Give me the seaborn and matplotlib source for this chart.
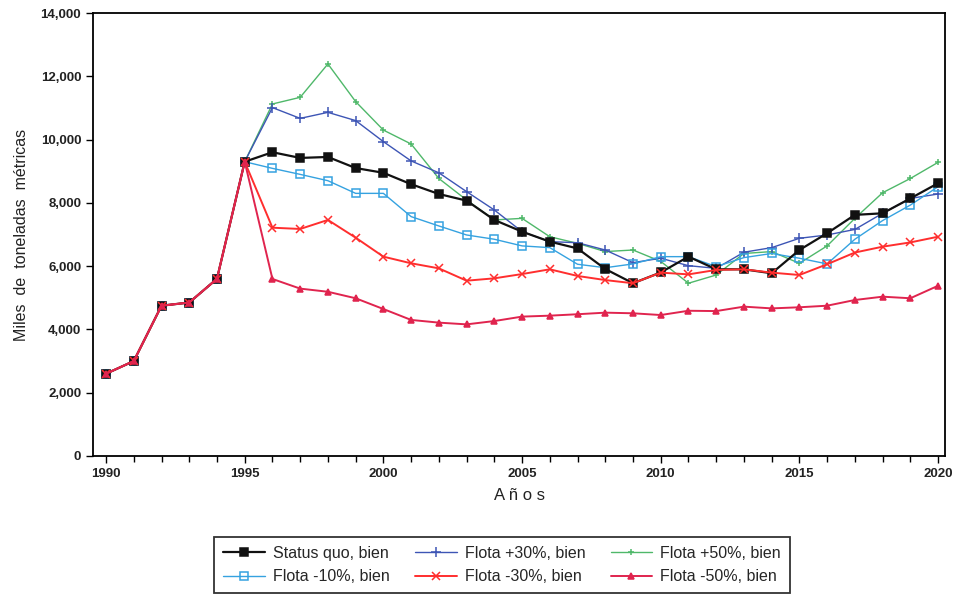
import numpy as np
import pandas as pd
import matplotlib
matplotlib.use("Agg")
import matplotlib.pyplot as plt
import seaborn as sns

years = list(range(1990, 2021))
hist = [2600, 3000, 4750, 4850, 5600, 9300]

status_quo = hist + [9600, 9420, 9450, 9100, 8950, 8590, 8280, 8070, 7460, 7090, 6775, 6560,
                     5910, 5460, 5800, 6300, 5900, 5900, 5775, 6510, 7040, 7620, 7670, 8140, 8620]
flota_p30 = hist + [11010, 10670, 10860, 10600, 9935, 9325, 8950, 8355, 7775, 7090, 6775, 6740,
                    6510, 6110, 6250, 6015, 5930, 6440, 6585, 6880, 6985, 7160, 7670, 8140, 8280]
flota_p50 = hist + [11125, 11335, 12390, 11200, 10300, 9860, 8770, 8090, 7460, 7510, 6930, 6720,
                    6460, 6510, 6150, 5460, 5720, 6400, 6460, 6090, 6640, 7510, 8320, 8770, 9280]
flota_m10 = hist + [9090, 8900, 8700, 8300, 8300, 7565, 7270, 6985, 6850, 6640, 6585, 6060,
                    5950, 6070, 6300, 6300, 5985, 6270, 6400, 6250, 6070, 6850, 7440, 7930, 8510]
flota_m30 = hist + [7215, 7175, 7460, 6900, 6300, 6090, 5930, 5540, 5615, 5750, 5900, 5690,
                    5560, 5460, 5795, 5740, 5880, 5900, 5795, 5720, 6060, 6430, 6615, 6750, 6930]
flota_m50 = hist + [5595, 5290, 5190, 4985, 4645, 4300, 4215, 4160, 4265, 4405, 4435, 4480,
                    4530, 4510, 4455, 4590, 4580, 4720, 4665, 4700, 4750, 4930, 5035, 4985, 5380]

labels = ["Status quo, bien", "Flota +30%, bien", "Flota +50%, bien",
          "Flota -10%, bien", "Flota -30%, bien", "Flota -50%, bien"]
series = [status_quo, flota_p30, flota_p50, flota_m10, flota_m30, flota_m50]

colors = ["#111111", "#3d55b5", "#4fb86a", "#35a2e0", "#ff2e2e", "#e0244e"]
markers = ["s", "+", "+", "s", "x", "^"]
msizes = [5.5, 6.5, 5, 6, 5.5, 4.5]
mfill = [True, True, True, False, True, True]
lws = [1.6, 1.0, 1.0, 1.0, 1.4, 1.4]

sns.set_theme(style="white")
plt.rcParams['font.family'] = ['Liberation Sans', 'DejaVu Sans']

fig = plt.figure(figsize=(9.59, 6.0), dpi=100)
ax = fig.add_axes([93/959, 1 - 456/600, (945-93)/959, (456-13)/600])

draw_order = [2, 1, 3, 0, 4, 5]
for i in draw_order:
    df = pd.DataFrame({"Año": years, "Valor": series[i]})
    kw = dict(marker=markers[i], markersize=msizes[i], color=colors[i], linewidth=lws[i],
              markeredgecolor=colors[i], markeredgewidth=1.1)
    if not mfill[i]:
        kw["markerfacecolor"] = "none"
    sns.lineplot(data=df, x="Año", y="Valor", ax=ax, label=labels[i], **kw)

ax.set_xlim(1989.53, 2020.25)
ax.set_ylim(0, 14000)
ax.set_xticks(range(1990, 2021, 5))
ax.set_xticks(range(1990, 2021), minor=True)
ax.set_yticks(range(0, 14001, 2000))
ax.set_yticklabels([f"{v:,}" for v in range(0, 14001, 2000)])
ax.tick_params(axis="both", which="major", direction="out", length=5, width=1,
               color="black", labelsize=9.5, bottom=True, left=True)
ax.tick_params(axis="x", which="minor", direction="out", length=4, width=1,
               color="black", bottom=True)
for t in ax.get_xticklabels() + ax.get_yticklabels():
    t.set_fontweight("bold")
    t.set_color("#222222")
for s in ax.spines.values():
    s.set_color("black")
    s.set_linewidth(1.3)
ax.set_xlabel("A ñ o s", fontsize=12, color="#222222", labelpad=6)
ax.set_ylabel("Miles  de  toneladas  métricas", fontsize=11.5, color="#222222", labelpad=8)

ax.get_legend().remove()
handles, lbls = ax.get_legend_handles_labels()
# row-major appearance with ncol=3 -> column-major ordering
row_major = [labels[0], labels[3], labels[1], labels[4], labels[2], labels[5]]
order = [lbls.index(l) for l in row_major]
leg = fig.legend([handles[k] for k in order], [lbls[k] for k in order],
                 ncol=3, loc="center", bbox_to_anchor=(502/959, 1 - 565/600),
                 frameon=True, fancybox=False, fontsize=11.5, handlelength=2.6,
                 columnspacing=1.6, handletextpad=0.5, borderpad=0.55, labelspacing=0.55)
leg.get_frame().set_edgecolor("black")
leg.get_frame().set_linewidth(1.3)

fig.savefig("out.png", dpi=100, facecolor="white")
